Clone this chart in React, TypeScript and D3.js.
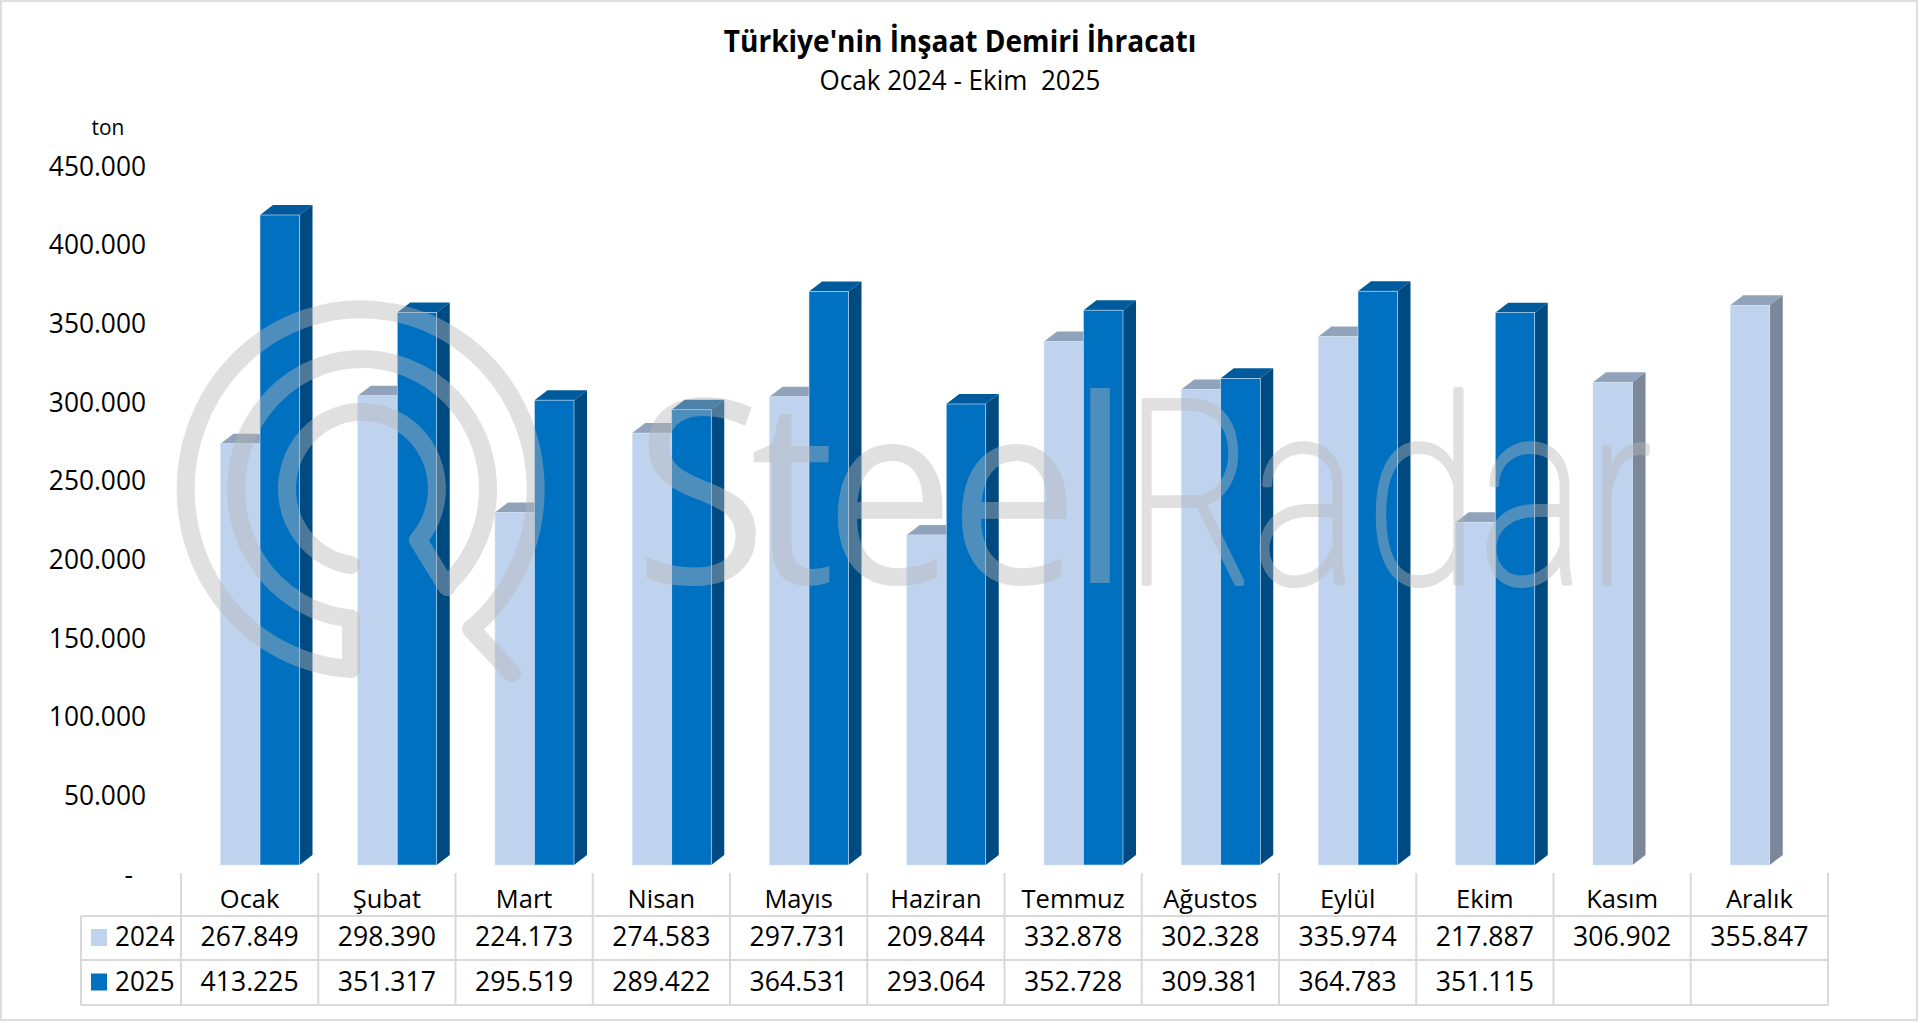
// @ts-nocheck
import { formatLocale, scaleBand, scaleLinear } from "d3";
import React from "react";

const months = ["Ocak", "Şubat", "Mart", "Nisan", "Mayıs", "Haziran", "Temmuz", "Ağustos", "Eylül", "Ekim", "Kasım", "Aralık"];
const years = ["2024", "2025"];
const values2024 = [267849, 298390, 224173, 274583, 297731, 209844, 332878, 302328, 335974, 217887, 306902, 355847];
const values2025 = [413225, 351317, 295519, 289422, 364531, 293064, 352728, 309381, 364783, 351115, null, null];
const yTicks = [0, 50000, 100000, 150000, 200000, 250000, 300000, 350000, 400000, 450000];
const seriesColors = [
  { front: "#bfd3ef", top: "#90a3bb", side: "#7a8899" },
  { front: "#0070c0", top: "#005a9c", side: "#004a82" },
];
// watermark letters, [letter, left edge, horizontal squeeze]
const steelLetters = [["S", 634, 0.95], ["t", 750, 0.93], ["e", 825, 0.9], ["e", 949, 0.9], ["l", 1070, 0.93]];
const radarLetters = [["R", 1125, 0.78], ["a", 1253, 0.77], ["d", 1366, 0.8], ["a", 1480, 0.77], ["r", 1589, 0.72]];

const FONT = "'Open Sans', sans-serif";
const tr = formatLocale({ decimal: ",", thousands: ".", grouping: [3], currency: ["", ""] });
const fmt = tr.format(",d");

const x = scaleBand().domain(months).range([181, 1828]);
const inner = scaleBand().domain(years).range([39.5, 118.5]);
const y = scaleLinear().domain([0, 450000]).range([865, 865 - 450000 * (650 / 413225)]);
const DX = 13;
const DY = 10;

const Label = ({ x, y, sx = 0.95, size = 28, anchor = "middle", weight = 400, children }: any) => (
  <text
    transform={`translate(${x},${y}) scale(${sx},1)`}
    textAnchor={anchor}
    fontFamily={FONT}
    fontSize={size}
    fontWeight={weight}
    fill="#000"
    style={{ whiteSpace: "pre" }}
  >
    {children}
  </text>
);

const Bar = ({ month, value, i }: any) => {
  const x0 = x(month) + inner(years[i]);
  const x1 = x0 + inner.bandwidth();
  const top = y(value);
  const base = y(0);
  const c = seriesColors[i];
  return (
    <g>
      <polygon points={`${x0},${top} ${x0 + DX},${top - DY} ${x1 + DX},${top - DY} ${x1},${top}`} fill={c.top} />
      <polygon points={`${x1},${top} ${x1 + DX},${top - DY} ${x1 + DX},${base - DY} ${x1},${base}`} fill={c.side} />
      <rect x={x0} y={top} width={x1 - x0} height={base - top} fill={c.front} stroke="#d5e3f5" strokeWidth={0.6} />
    </g>
  );
};

const Watermark = () => (
  <g opacity={0.43}>
    <g fill="none" stroke="#b7b7b7" strokeWidth={18} strokeLinecap="round" strokeLinejoin="round">
      <path d="M351 669 A175 180 0 1 1 471 629 L512 673" />
      <path d="M351 669 L351 618.5 A126 130 0 1 1 447 585" />
      <path d="M351 565 A75 77 0 1 1 418 540 L447 587" />
    </g>
    {steelLetters.map(([ch, px, sx], i) => (
      <text
        key={i}
        transform={`translate(${px},583) scale(${sx},1)`}
        fontFamily="'Open Sans', sans-serif"
        fontSize={256}
        fill="#b7b7b7"
      >
        {ch}
      </text>
    ))}
    {radarLetters.map(([ch, px, sx], i) => (
      <text
        key={i}
        transform={`translate(${px},583) scale(${sx},1)`}
        fontFamily="Roboto, sans-serif"
        fontSize={256}
        fontWeight={100}
        fill="#b7b7b7"
        stroke="#b7b7b7"
        strokeWidth={6}
        strokeLinejoin="round"
      >
        {ch}
      </text>
    ))}
  </g>
);

export default function App() {
  const rowLines = [916, 960, 1005];
  const colLines = x.domain().map((m) => x(m)).concat(1828);
  return (
    <svg width={1920} height={1023} style={{ position: "absolute", left: 0, top: 0, background: "#fff" }}>
      <rect x={1} y={1} width={1916} height={1019} fill="#fff" stroke="#dedede" strokeWidth={2} />

      <Label x={960} y={52} size={30} weight={700} sx={0.935}>Türkiye'nin İnşaat Demiri İhracatı</Label>
      <Label x={960} y={90} size={28} sx={0.93}>{"Ocak 2024 - Ekim  2025"}</Label>
      <Label x={108} y={135} size={22}>ton</Label>

      {yTicks.map((t) => (
        <Label key={t} x={t === 0 ? 133 : 146} y={y(t) + 18.5} anchor="end" sx={0.94}>
          {t === 0 ? "-" : fmt(t)}
        </Label>
      ))}

      {months.map((m, k) => (
        <g key={m}>
          {values2024[k] != null && <Bar month={m} value={values2024[k]} i={0} />}
          {values2025[k] != null && <Bar month={m} value={values2025[k]} i={1} />}
        </g>
      ))}

      <Watermark />

      <g stroke="#d9d9d9" strokeWidth={2}>
        {colLines.map((cx) => (
          <line key={cx} x1={cx} x2={cx} y1={873} y2={1005} />
        ))}
        <line x1={81} x2={81} y1={916} y2={1005} />
        {rowLines.map((ry) => (
          <line key={ry} x1={81} x2={1828} y1={ry} y2={ry} />
        ))}
      </g>

      {months.map((m, k) => (
        <g key={m}>
          <Label x={x(m) + x.bandwidth() / 2} y={908} size={26} sx={0.98}>{m}</Label>
          <Label x={x(m) + x.bandwidth() / 2} y={946} sx={0.95}>{fmt(values2024[k])}</Label>
          {values2025[k] != null && (
            <Label x={x(m) + x.bandwidth() / 2} y={991} sx={0.95}>{fmt(values2025[k])}</Label>
          )}
        </g>
      ))}

      {years.map((yr, i) => (
        <g key={yr}>
          <rect x={91} y={929 + i * 44.5} width={16} height={17} fill={seriesColors[i].front} />
          <Label x={115} y={946 + i * 45} anchor="start" sx={0.93}>{yr}</Label>
        </g>
      ))}
    </svg>
  );
}
